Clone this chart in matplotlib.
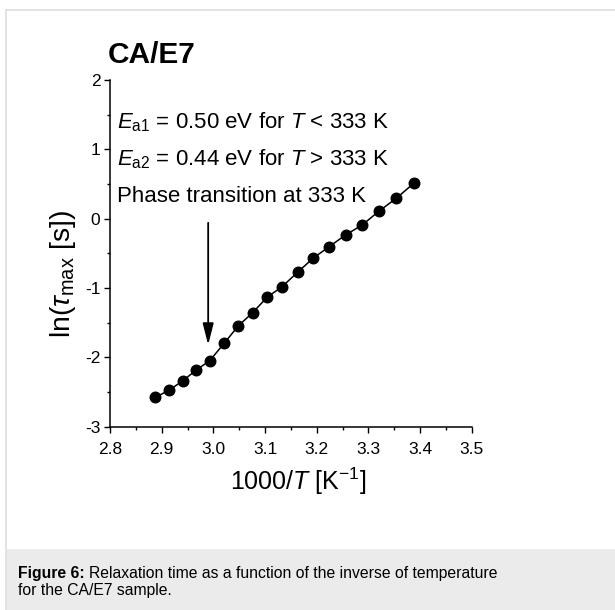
import matplotlib
matplotlib.use("Agg")
import matplotlib.pyplot as plt
import matplotlib.ticker as ticker
from matplotlib.patches import Rectangle
from matplotlib.lines import Line2D

plt.rcParams["font.family"] = ["Liberation Sans", "DejaVu Sans"]
plt.rcParams["mathtext.fontset"] = "custom"
plt.rcParams["mathtext.rm"] = "Liberation Sans"
plt.rcParams["mathtext.it"] = "Liberation Sans:italic"
plt.rcParams["mathtext.bf"] = "Liberation Sans:bold"
plt.rcParams["axes.unicode_minus"] = False

# relaxation data: 1000/T [1/K] and ln(tau_max [s])
inv_temp = [2.888, 2.915, 2.941, 2.967, 2.993, 3.021, 3.048, 3.076, 3.104,
            3.133, 3.163, 3.193, 3.224, 3.256, 3.288, 3.321, 3.354, 3.388]
ln_tau = [-2.576, -2.471, -2.337, -2.182, -2.048, -1.797, -1.548, -1.356, -1.134,
          -0.981, -0.773, -0.571, -0.404, -0.235, -0.091, 0.111, 0.294, 0.511]

x_ticks = [2.8, 2.9, 3.0, 3.1, 3.2, 3.3, 3.4, 3.5]
y_ticks = [-3, -2, -1, 0, 1, 2]

transition_x = 2.990
arrow_top = -0.06
arrow_tip = -1.82

notes = [
    r"$E_{\mathrm{a1}}$ = 0.50 eV for $T$ < 333 K",
    r"$E_{\mathrm{a2}}$ = 0.44 eV for $T$ > 333 K",
    "Phase transition at 333 K",
]
note_y = [1.308, 0.775, 0.245]

W, H = 615, 610
fig = plt.figure(figsize=(W / 100, H / 100), dpi=100)
fig.patch.set_facecolor("white")

# page frame and caption band
fig.add_artist(Line2D([6 / W, 6 / W], [0, 1 - 10 / H], transform=fig.transFigure,
                      color="#dddddd", lw=1.2))
fig.add_artist(Line2D([6 / W, 1], [1 - 10 / H, 1 - 10 / H], transform=fig.transFigure,
                      color="#dddddd", lw=1.2))
fig.add_artist(Rectangle((7 / W, 0), 1, 1 - 549 / H, transform=fig.transFigure,
                         facecolor="#ebebeb", edgecolor="none"))

ax = fig.add_axes([110 / W, 1 - 426.7 / H, (471.7 - 110) / W, (426.7 - 80) / H])
ax.set_facecolor("none")

ax.plot(inv_temp, ln_tau, color="black", lw=1.1, marker="o", ms=7.6,
        markerfacecolor="black", markeredgecolor="black", zorder=3)

ax.annotate("", xy=(transition_x, arrow_tip), xytext=(transition_x, arrow_top),
            arrowprops=dict(arrowstyle="-|>,head_length=1.3,head_width=0.33",
                            mutation_scale=10, lw=1.3, color="black",
                            shrinkA=0, shrinkB=0))

for txt, yy in zip(notes, note_y):
    ax.text(2.8136, yy, txt, fontsize=16, va="baseline", ha="left")

ax.set_xlim(2.8, 3.5)
ax.set_ylim(-3, 2)
ax.set_xticks(x_ticks)
ax.set_xticklabels([f"{v:.1f}" for v in x_ticks])
ax.set_yticks(y_ticks)
ax.xaxis.set_minor_locator(ticker.MultipleLocator(0.05))
ax.yaxis.set_minor_locator(ticker.MultipleLocator(0.5))
ax.tick_params(which="major", direction="out", length=4, width=1, labelsize=12.5)
ax.tick_params(which="minor", direction="out", length=2.5, width=1)
ax.tick_params(axis="x", pad=7)
ax.tick_params(axis="y", pad=3)
for s in ["top", "right"]:
    ax.spines[s].set_visible(False)
for s in ["left", "bottom"]:
    ax.spines[s].set_linewidth(1.1)

ax.set_xlabel(r"1000/$T$ [K$^{\mathrm{-1}}$]", fontsize=18)
ax.xaxis.set_label_coords(0.52, -0.111)
ax.xaxis.label.set_va("top")
ax.set_ylabel(r"ln($\tau_{\mathrm{max}}$ [s])", fontsize=20.5)
ax.yaxis.set_label_coords(-0.088, 0.44)

fig.text(108 / W, 1 - 63 / H, "CA/E7", fontsize=21.5, fontweight="bold",
         va="baseline", ha="left")

# caption
fig.canvas.draw()
renderer = fig.canvas.get_renderer()
bold = fig.text(18 / W, 1 - 578 / H, "Figure 6:", fontsize=11.3, fontweight="bold",
                va="baseline", ha="left")
bb = bold.get_window_extent(renderer)
fig.text((bb.x1 + 4) / W, 1 - 578 / H,
         "Relaxation time as a function of the inverse of temperature",
         fontsize=11.3, va="baseline", ha="left")
fig.text(18 / W, 1 - 595 / H, "for the CA/E7 sample.", fontsize=11.3,
         va="baseline", ha="left")

fig.savefig("out.png", dpi=100)
